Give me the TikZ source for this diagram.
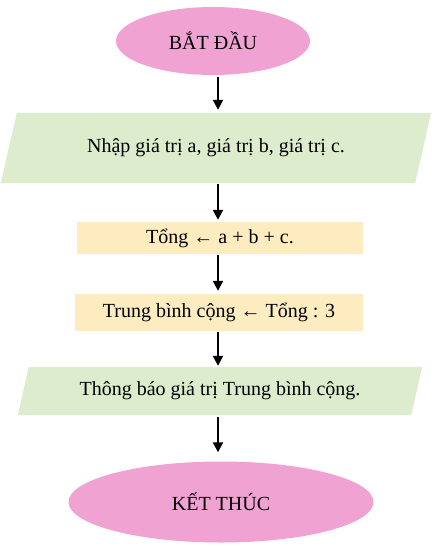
\documentclass[tikz,border=0pt]{standalone}
\usepackage{fontspec}
\setmainfont{Liberation Serif}
\usetikzlibrary{shapes.geometric,arrows.meta,calc}
\pgfdeclarelayer{background}
\pgfsetlayers{background,main}
\definecolor{pinkfill}{RGB}{240,162,210}
\definecolor{greenfill}{RGB}{222,236,206}
\definecolor{yellowfill}{RGB}{252,236,192}
\tikzset{
  every node/.style={font=\fontsize{20}{24}\selectfont, inner sep=0pt},
  terminal/.style={ellipse, fill=pinkfill},
  iobox/.style={rectangle},
  procbox/.style={rectangle, fill=yellowfill},
  arr/.style={line width=2pt, -{Triangle[length=10pt,width=10pt]}},
}
\begin{document}
\begin{tikzpicture}[x=1pt,y=-1pt]
\useasboundingbox (0,0) rectangle (436,551);
\coordinate (ax) at (218,0);
\node[terminal, minimum width=194pt, minimum height=68pt] (start) at (213,41) {BẮT ĐẦU};
\node[iobox, minimum width=430pt, minimum height=70pt] (in) at (216,148) {Nhập giá trị a, giá trị b, giá trị c.};
\node[procbox, minimum width=286pt, minimum height=32pt] (sum) at (220,238) {Tổng ← a + b + c.};
\node[procbox, minimum width=288pt, minimum height=37pt] (avg) at (219,312.5) {Trung bình cộng ← Tổng : 3};
\node[iobox, minimum width=404pt, minimum height=48pt] (out) at (220,391) {Thông báo giá trị Trung bình cộng.};
\node[terminal, minimum width=305pt, minimum height=81pt] (end) at (221,502) {KẾT THÚC};
\begin{pgfonlayer}{background}
  \fill[greenfill] ($(in.north west)+(16,0)$) -- (in.north east) -- ($(in.south east)+(-16,0)$) -- (in.south west) -- cycle;
  \fill[greenfill] ($(out.north west)+(11,0)$) -- (out.north east) -- ($(out.south east)+(-11,0)$) -- (out.south west) -- cycle;
\end{pgfonlayer}
\draw[arr, shorten <=2pt, shorten >=3pt] (start.south -| ax) -- (in.north -| ax);
\draw[arr, shorten <=1pt, shorten >=2pt] (in.south -| ax) -- (sum.north -| ax);
\draw[arr, shorten <=1pt, shorten >=3pt] (sum.south -| ax) -- (avg.north -| ax);
\draw[arr, shorten <=1pt, shorten >=1pt] (avg.south -| ax) -- (out.north -| ax);
\draw[arr, shorten <=2pt, shorten >=9pt] (out.south -| ax) -- (end.north -| ax);
\end{tikzpicture}
\end{document}
